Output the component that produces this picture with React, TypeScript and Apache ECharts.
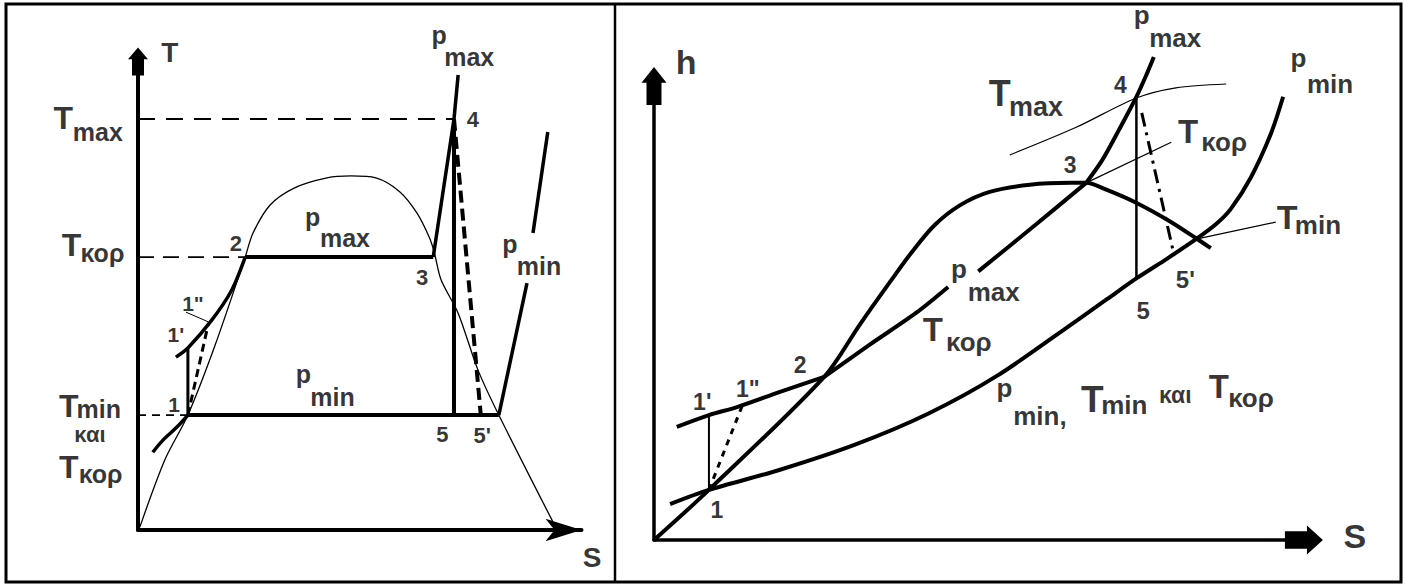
import React, { useEffect, useRef } from 'react';
import * as echarts from 'echarts';

// ---------- T–s diagram (left panel), s and T in arbitrary units ----------
const tsDome = [
  [0.4, 0.6], [5.8, 14.5], [10.8, 23.8], [16.7, 38.3], [23.2, 56.5], [24.9, 61.5],
  [28.6, 67.3], [33.8, 70.8], [40.9, 72.9], [46.1, 73.3], [51.5, 72.9], [56.7, 70.0],
  [60.4, 65.6], [63.0, 60.7], [64.1, 57.6], [65.6, 51.8], [69.3, 44.9], [73.6, 33.1],
  [78.1, 23.8], [90.5, 0.4],
];
const tsPminLiquid = [[3.2, 16.1], [5.4, 18.6], [8.2, 21.1], [10.8, 23.8]];
const tsPmaxLiquid = [[8.2, 35.8], [10.8, 37.7], [16.0, 43.5], [20.3, 49.7], [23.2, 56.5]];
const ts1to1p = [[10.8, 23.8], [10.8, 37.7]];
const ts1to1pp = [[10.8, 23.8], [15.2, 42.6]];
const ts2to3 = [[23.2, 56.5], [63.9, 56.5]];
const tsPmaxVapour = [[63.9, 56.5], [68.4, 85.1], [69.3, 94.2]];
const ts4to5 = [[68.4, 85.1], [68.4, 23.8]];
const ts4to5p = [[68.4, 85.1], [74.2, 23.8]];
const tsPminTwoPhase = [[10.8, 23.8], [78.1, 23.8]];
const tsPminVapourLow = [[78.1, 23.8], [84.2, 51.1]];
const tsPminVapourHigh = [[85.5, 61.5], [88.7, 82.4]];
const tsTmaxRef = [[0, 85.1], [68.4, 85.1]];
const tsTkorRef = [[0, 56.5], [23.2, 56.5]];
const tsTminRef = [[0, 23.8], [10.8, 23.8]];
const tsLeader = [[10.4, 45.1], [15.2, 43.1]];

// [text, s, T, font size]
const tsLabels: [string, number, number, number][] = [
  ['T', 6.9, 98.8, 28],
  ['T', -16.2, 85.2, 32], ['max', -8.7, 82.5, 25],
  ['T', -14.4, 59.0, 32], ['κορ', -7.7, 57.3, 25],
  ['T', -15.0, 25.7, 32], ['min', -8.5, 25.1, 25],
  ['και', -10.4, 19.7, 22],
  ['T', -15.0, 13.0, 32], ['κορ', -8.1, 11.6, 25],
  ['p', 65.2, 102.5, 25], ['max', 71.7, 98.0, 25],
  ['4', 72.5, 85.0, 22],
  ['2', 21.2, 59.3, 22],
  ['p', 37.8, 64.9, 25], ['max', 44.8, 60.4, 25],
  ['3', 61.5, 52.3, 22],
  ['p', 80.5, 59.3, 25], ['min', 86.8, 54.6, 25],
  ['1"', 11.9, 46.9, 21],
  ["1'", 8.2, 40.4, 21],
  ['1', 7.8, 25.9, 21],
  ['p', 35.8, 32.4, 25], ['min', 42.1, 27.6, 25],
  ['5', 65.9, 19.8, 22],
  ["5'", 74.5, 19.6, 22],
  ['S', 98.3, -5.6, 28],
];

// ---------- h–s diagram (right panel) ----------
const hsDome = [
  [0, 0], [8.2, 10.6], [25.4, 34.5], [30.7, 45.5], [35.2, 54.5], [38.5, 60.9],
  [41.9, 66.6], [45.7, 70.8], [50.1, 73.6], [56.1, 75.1], [62.1, 75.5], [64.5, 75.5],
  [67.6, 74.0], [72.1, 71.2], [76.6, 67.7], [80.9, 63.8], [83.1, 61.7],
];
const hsPmaxLiquid = [[3.4, 23.9], [8.2, 26.4], [12.4, 28.1], [18.8, 31.3], [25.4, 34.5]];
const hsPmaxTwoPhaseLow = [[25.4, 34.5], [32.2, 41.3], [39.1, 48.0], [43.9, 53.5]];
const hsPmaxTwoPhaseHigh = [[48.4, 56.8], [56.4, 66.0], [64.5, 75.5]];
const hsPmaxVapour = [[64.5, 75.5], [66.9, 80.3], [69.4, 86.7], [71.9, 93.4], [73.6, 98.7], [74.6, 102.1]];
const hsPmin = [
  [2.4, 7.6], [8.2, 10.6], [18.7, 14.8], [29.9, 20.1], [40.9, 26.7], [51.3, 34.8],
  [63.1, 46.4], [67.6, 50.9], [72.1, 55.4], [76.6, 59.5], [80.9, 63.6], [83.9, 66.8],
  [86.1, 70.0], [89.1, 76.7], [92.1, 86.0], [93.9, 93.7],
];
const hsTmax = [[53.1, 81.4], [63.1, 87.3], [71.9, 93.4], [77.9, 95.6], [85.4, 96.4]];
const hsTkor = [[64.5, 75.5], [77.2, 84.1]];
const hsTmin = [[80.9, 63.6], [92.8, 67.2]];
const hs4to5 = [[72.0, 93.4], [72.0, 55.3]];
const hs4to5p = [[72.8, 90.3], [77.6, 60.4]];
const hs1to1p = [[8.2, 10.6], [8.2, 26.4]];
const hs1to1pp = [[8.2, 10.6], [13.2, 28.5]];

const hsLabels: [string, number, number, number][] = [
  ['h', 4.8, 101.1, 34],
  ['p', 72.8, 111.0, 26], ['max', 77.8, 106.2, 26],
  ['T', 51.6, 94.4, 36], ['max', 57.0, 91.6, 27],
  ['4', 69.6, 96.2, 23],
  ['3', 62.1, 79.2, 23],
  ['T', 79.7, 86.4, 33], ['κορ', 85.1, 84.1, 26],
  ['T', 94.5, 68.2, 34], ['min', 99.1, 66.6, 26],
  ['p', 96.2, 101.8, 26], ['min', 100.9, 96.5, 26],
  ["5'", 79.3, 55.0, 24],
  ['p', 45.5, 57.2, 26], ['max', 50.7, 52.5, 26],
  ['5', 73.0, 48.6, 24],
  ['T', 41.6, 44.4, 33], ['κορ', 47.0, 41.9, 26],
  ['2', 21.8, 37.0, 23],
  ['1"', 14.0, 31.9, 23],
  ["1'", 7.2, 29.1, 23],
  ['1', 9.4, 6.3, 23],
  ['p', 52.3, 32.2, 26], ['min,', 57.6, 26.3, 26],
  ['T', 65.4, 29.8, 37], ['min', 70.2, 28.6, 26],
  ['και', 77.8, 30.7, 23],
  ['T', 84.3, 32.5, 33], ['κορ', 89.1, 30.0, 26],
  ['S', 104.6, 0.8, 34],
];

const FONT = '"Liberation Sans", Arial, Helvetica, sans-serif';

const blockArrow = (w: number, l: number) =>
  `path://M${w / 2},0 L${w},${l * 0.42} L${w * 0.8},${l * 0.42} L${w * 0.8},${l} L${w * 0.2},${l} L${w * 0.2},${l * 0.42} L0,${l * 0.42} Z`;

function curve(data: number[][], grid: number, width: number, opts: { smooth?: number | boolean; dash?: any } = {}) {
  return {
    type: 'line',
    xAxisIndex: grid,
    yAxisIndex: grid,
    data,
    symbol: 'none',
    showSymbol: false,
    clip: false,
    silent: true,
    smooth: opts.smooth ?? false,
    lineStyle: { color: '#000', width, type: opts.dash ?? 'solid', cap: 'butt' },
    z: 3,
  };
}

function labels(items: [string, number, number, number][], grid: number) {
  return {
    type: 'scatter',
    xAxisIndex: grid,
    yAxisIndex: grid,
    clip: false,
    silent: true,
    symbolSize: 1,
    itemStyle: { color: 'rgba(0,0,0,0)' },
    label: {
      show: true,
      position: 'inside',
      color: '#000',
      fontFamily: FONT,
      fontWeight: 'bold',
      formatter: (p: any) => p.name,
    },
    data: items.map(([text, x, y, size]) => ({ name: text, value: [x, y], label: { fontSize: size } })),
    z: 5,
  };
}

const hiddenAxisParts = {
  axisTick: { show: false },
  axisLabel: { show: false },
  splitLine: { show: false },
};

const option: any = {
  animation: false,
  backgroundColor: '#fff',
  graphic: [
    { type: 'rect', shape: { x: 6, y: 4, width: 1395, height: 578 }, style: { fill: 'none', stroke: '#000', lineWidth: 3 } },
    { type: 'line', shape: { x1: 615, y1: 4, x2: 615, y2: 582 }, style: { stroke: '#000', lineWidth: 2.5 } },
  ],
  grid: [
    { left: 138, top: 61.5, width: 443.5, height: 468.5 },
    { left: 654, top: 85.9, width: 649.9, height: 454.1 },
  ],
  xAxis: [
    {
      gridIndex: 0, type: 'value', min: 0, max: 96, ...hiddenAxisParts,
      axisLine: { show: true, symbol: ['none', 'arrow'], symbolSize: [17, 36], lineStyle: { color: '#000', width: 4 } },
    },
    {
      gridIndex: 1, type: 'value', min: 0, max: 97, ...hiddenAxisParts,
      axisLine: { show: true, symbol: ['none', blockArrow(29, 38)], symbolSize: [29, 38], lineStyle: { color: '#000', width: 3.5 } },
    },
  ],
  yAxis: [
    {
      gridIndex: 0, type: 'value', min: 0, max: 97, ...hiddenAxisParts,
      axisLine: { show: true, symbol: ['none', blockArrow(20, 28)], symbolSize: [20, 28], lineStyle: { color: '#000', width: 4 } },
    },
    {
      gridIndex: 1, type: 'value', min: 0, max: 96, ...hiddenAxisParts,
      axisLine: { show: true, symbol: ['none', blockArrow(25, 38)], symbolSize: [25, 38], lineStyle: { color: '#000', width: 3.5 } },
    },
  ],
  series: [
    // T–s
    curve(tsTmaxRef, 0, 1.8, { dash: [17, 11] }),
    curve(tsTkorRef, 0, 1.8, { dash: [16, 9] }),
    curve(tsTminRef, 0, 1.8, { dash: [8, 6] }),
    curve(tsDome, 0, 1.3, { smooth: 0.3 }),
    curve(tsPminLiquid, 0, 3.5, { smooth: 0.4 }),
    curve(tsPmaxLiquid, 0, 3.5, { smooth: 0.3 }),
    curve(ts1to1p, 0, 3),
    curve(ts1to1pp, 0, 3, { dash: [8, 5] }),
    curve(ts2to3, 0, 4),
    curve(tsPmaxVapour, 0, 3.5),
    curve(ts4to5, 0, 4),
    curve(ts4to5p, 0, 4, { dash: [12, 6] }),
    curve(tsPminTwoPhase, 0, 4),
    curve(tsPminVapourLow, 0, 3.5),
    curve(tsPminVapourHigh, 0, 3.5),
    curve(tsLeader, 0, 1),
    labels(tsLabels, 0),
    // h–s
    curve(hsDome, 1, 4, { smooth: 0.3 }),
    curve(hsPmaxLiquid, 1, 4, { smooth: 0.3 }),
    curve(hsPmaxTwoPhaseLow, 1, 4, { smooth: 0.3 }),
    curve(hsPmaxTwoPhaseHigh, 1, 4, { smooth: 0.3 }),
    curve(hsPmaxVapour, 1, 4, { smooth: 0.3 }),
    curve(hsPmin, 1, 4, { smooth: 0.3 }),
    curve(hsTmax, 1, 1.2, { smooth: 0.3 }),
    curve(hsTkor, 1, 1.2),
    curve(hsTmin, 1, 1.2),
    curve(hs4to5, 1, 2.5),
    curve(hs4to5p, 1, 3, { dash: [14, 6, 3, 6] }),
    curve(hs1to1p, 1, 2),
    curve(hs1to1pp, 1, 3, { dash: [6, 6] }),
    labels(hsLabels, 1),
  ],
};

export default function App() {
  const ref = useRef<HTMLDivElement>(null);
  useEffect(() => {
    const chart = echarts.init(ref.current!, null, { renderer: 'svg' });
    chart.setOption(option);
    return () => chart.dispose();
  }, []);
  return (
    <div
      ref={ref}
      style={{ position: 'absolute', left: 0, top: 0, width: 1405, height: 585, background: '#fff' }}
    />
  );
}
